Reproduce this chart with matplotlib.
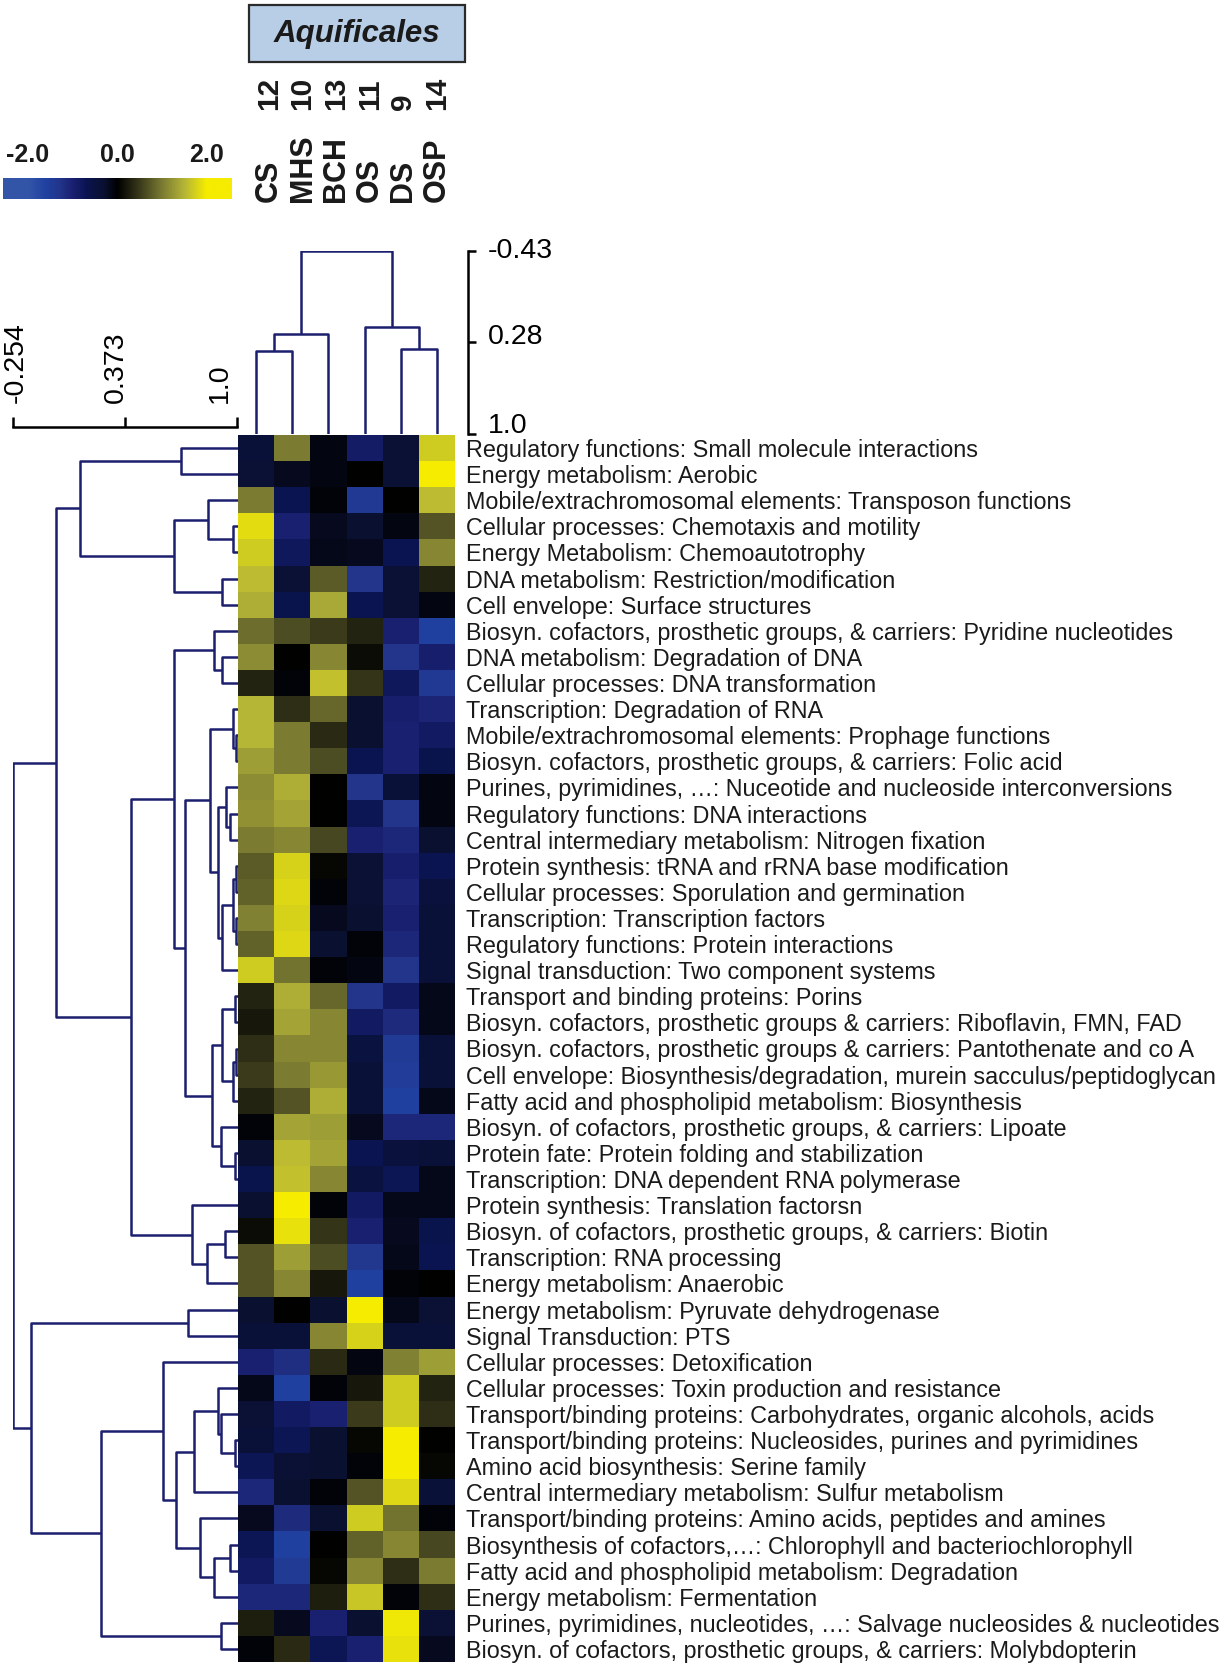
import numpy as np
import matplotlib
matplotlib.use("Agg")
import matplotlib.pyplot as plt
from matplotlib.colors import LinearSegmentedColormap, Normalize
from matplotlib.patches import Rectangle
from matplotlib.transforms import ScaledTranslation

plt.rcParams['font.family'] = ['Liberation Sans', 'DejaVu Sans']

# ---- data ----
samples = ['CS', 'MHS', 'BCH', 'OS', 'DS', 'OSP']
sample_nums = ['12', '10', '13', '11', '9', '14']
group_name = 'Aquificales'

roles = [
    "Regulatory functions: Small molecule interactions",
    "Energy metabolism: Aerobic",
    "Mobile/extrachromosomal elements: Transposon functions",
    "Cellular processes: Chemotaxis and motility",
    "Energy Metabolism: Chemoautotrophy",
    "DNA metabolism: Restriction/modification",
    "Cell envelope: Surface structures",
    "Biosyn. cofactors, prosthetic groups, & carriers: Pyridine nucleotides",
    "DNA metabolism: Degradation of DNA",
    "Cellular processes: DNA transformation",
    "Transcription: Degradation of RNA",
    "Mobile/extrachromosomal elements: Prophage functions",
    "Biosyn. cofactors, prosthetic groups, & carriers: Folic acid",
    "Purines, pyrimidines, \u2026: Nuceotide and nucleoside interconversions",
    "Regulatory functions: DNA interactions",
    "Central intermediary metabolism: Nitrogen fixation",
    "Protein synthesis: tRNA and rRNA base modification",
    "Cellular processes: Sporulation and germination",
    "Transcription: Transcription factors",
    "Regulatory functions: Protein interactions",
    "Signal transduction: Two component systems",
    "Transport and binding proteins: Porins",
    "Biosyn. cofactors, prosthetic groups & carriers: Riboflavin, FMN, FAD",
    "Biosyn. cofactors, prosthetic groups & carriers: Pantothenate and co A",
    "Cell envelope: Biosynthesis/degradation, murein sacculus/peptidoglycan",
    "Fatty acid and phospholipid metabolism: Biosynthesis",
    "Biosyn. of cofactors, prosthetic groups, & carriers: Lipoate",
    "Protein fate: Protein folding and stabilization",
    "Transcription: DNA dependent RNA polymerase",
    "Protein synthesis: Translation factorsn",
    "Biosyn. of cofactors, prosthetic groups, & carriers: Biotin",
    "Transcription: RNA processing",
    "Energy metabolism: Anaerobic",
    "Energy metabolism: Pyruvate dehydrogenase",
    "Signal Transduction: PTS",
    "Cellular processes: Detoxification",
    "Cellular processes: Toxin production and resistance",
    "Transport/binding proteins: Carbohydrates, organic alcohols, acids",
    "Transport/binding proteins: Nucleosides, purines and pyrimidines",
    "Amino acid biosynthesis: Serine family",
    "Central intermediary metabolism: Sulfur metabolism",
    "Transport/binding proteins: Amino acids, peptides and amines",
    "Biosynthesis of cofactors,\u2026: Chlorophyll and bacteriochlorophyll",
    "Fatty acid and phospholipid metabolism: Degradation",
    "Energy metabolism: Fermentation",
    "Purines, pyrimidines, nucleotides, \u2026: Salvage nucleosides & nucleotides",
    "Biosyn. of cofactors, prosthetic groups, & carriers: Molybdopterin",
]

# z-scores, one row per role, columns in sample order
values = np.array([
    [-0.40, 1.00, -0.10, -0.90, -0.35, 1.70],
    [-0.35, -0.20, -0.10, 0.00, -0.35, 2.00],
    [1.00, -0.70, -0.05, -1.40, 0.00, 1.55],
    [1.85, -1.00, -0.20, -0.30, -0.10, 0.70],
    [1.70, -0.80, -0.15, -0.20, -0.70, 1.10],
    [1.55, -0.35, 0.75, -1.30, -0.35, 0.30],
    [1.45, -0.65, 1.40, -0.70, -0.35, -0.10],
    [0.90, 0.65, 0.50, 0.30, -1.00, -1.60],
    [1.15, 0.00, 1.10, 0.10, -1.30, -0.95],
    [0.30, -0.05, 1.60, 0.45, -0.80, -1.40],
    [1.50, 0.40, 0.85, -0.30, -0.95, -1.05],
    [1.50, 1.00, 0.35, -0.30, -1.00, -0.85],
    [1.30, 1.00, 0.65, -0.70, -1.00, -0.65],
    [1.15, 1.45, 0.00, -1.30, -0.40, -0.10],
    [1.20, 1.35, 0.00, -0.75, -1.30, -0.10],
    [1.00, 1.10, 0.60, -1.00, -1.10, -0.30],
    [0.75, 1.75, 0.05, -0.35, -0.95, -0.70],
    [0.80, 1.80, -0.05, -0.35, -1.05, -0.45],
    [1.05, 1.75, -0.20, -0.30, -1.00, -0.40],
    [0.80, 1.80, -0.30, -0.05, -1.10, -0.40],
    [1.70, 0.95, -0.05, -0.10, -1.30, -0.40],
    [0.30, 1.45, 0.85, -1.30, -0.85, -0.15],
    [0.20, 1.35, 1.10, -0.85, -1.15, -0.15],
    [0.40, 1.10, 1.10, -0.50, -1.45, -0.40],
    [0.50, 1.00, 1.25, -0.40, -1.50, -0.40],
    [0.30, 0.70, 1.45, -0.40, -1.60, -0.15],
    [-0.05, 1.35, 1.30, -0.20, -1.10, -1.10],
    [-0.30, 1.55, 1.35, -0.70, -0.45, -0.40],
    [-0.65, 1.60, 1.10, -0.50, -0.75, -0.15],
    [-0.30, 2.00, -0.05, -0.85, -0.15, -0.15],
    [0.10, 1.90, 0.45, -1.00, -0.20, -0.65],
    [0.70, 1.30, 0.65, -1.35, -0.15, -0.70],
    [0.70, 1.10, 0.20, -1.60, -0.05, 0.00],
    [-0.30, 0.00, -0.30, 2.00, -0.15, -0.35],
    [-0.40, -0.40, 1.10, 1.75, -0.40, -0.40],
    [-1.00, -1.20, 0.35, -0.10, 1.05, 1.30],
    [-0.15, -1.60, -0.05, 0.20, 1.70, 0.30],
    [-0.35, -0.85, -1.00, 0.50, 1.70, 0.40],
    [-0.40, -0.75, -0.30, 0.05, 2.00, 0.00],
    [-0.75, -0.35, -0.30, -0.05, 2.00, 0.05],
    [-1.10, -0.30, -0.05, 0.70, 1.80, -0.40],
    [-0.20, -1.15, -0.30, 1.70, 0.95, -0.05],
    [-0.75, -1.60, 0.00, 0.80, 1.10, 0.60],
    [-0.85, -1.45, 0.05, 1.10, 0.40, 1.00],
    [-1.10, -1.10, 0.25, 1.65, -0.05, 0.40],
    [0.25, -0.20, -1.00, -0.30, 1.95, -0.35],
    [-0.05, 0.35, -0.75, -1.00, 1.90, -0.20],
])

# row tree: (merge height, left, right); ints are row indices
row_tree = (-0.254,
    (-0.013,
        (0.121,
            (0.681, 0, 1),
            (0.643, (0.832, 2, (0.972, 3, 4)), (0.909, 5, 6))),
        (0.401,
            (0.643,
                (0.866, 7, (0.909, 8, 9)),
                (0.703,
                    (0.844,
                        (0.972, 10, (0.99, 11, 12)),
                        (0.888,
                            (0.933, 13, (0.955, 14, 15)),
                            (0.91, (0.972, (0.99, 16, 17), (0.99, 18, 19)), 20))),
                    (0.855,
                        (0.91, (0.985, 21, 22), (0.972, (0.99, 23, 24), 25)),
                        (0.905, 26, (0.985, 27, 28))))),
            (0.742, 29, (0.83, (0.93, 30, 31), 32)))),
    (-0.153,
        (0.72, 33, 34),
        (0.238,
            (0.58, 35,
                (0.657,
                    (0.754, (0.886, 36, (0.906, 37, (0.985, 38, 39))), 40),
                    (0.79, 41, (0.866, (0.956, 42, 43), 44)))),
            (0.906, 45, 46))))

col_tree = (-0.43, (0.218, (0.35, 0, 1), 2), (0.164, 3, (0.334, 4, 5)))

row_scale_ticks = [-0.254, 0.373, 1.0]
row_scale_labels = ['-0.254', '0.373', '1.0']
col_scale_ticks = [-0.43, 0.28, 1.0]
col_scale_labels = ['-0.43', '0.28', '1.0']
key_ticks = [-2.0, 0.0, 2.0]

# ---- figure ----
W, H = 1225, 1666
fig = plt.figure(figsize=(W / 100, H / 100), dpi=100)


def px_axes(x0, y0, x1, y1):
    return fig.add_axes([x0 / W, 1 - y1 / H, (x1 - x0) / W, (y1 - y0) / H])


def shift(lbl, dx_px, dy_px):
    lbl.set_transform(lbl.get_transform() +
                      ScaledTranslation(dx_px / 100, dy_px / 100, fig.dpi_scale_trans))


cmap = LinearSegmentedColormap.from_list('by', [
    (0.0, '#3355a8'), (0.1, '#2040a0'), (0.175, '#22358a'), (0.25, '#1a2070'),
    (0.325, '#0a1450'), (0.425, '#0a1030'), (0.5, '#000000'),
    (0.625, '#3a3a1c'), (0.75, '#7a7a32'), (0.875, '#b4b438'), (1.0, '#f5ec00')])
norm = Normalize(-2, 2)
line_col = '#1c1f6e'

# heatmap
hx0, hx1, hy0, hy1 = 238, 455, 435, 1662
ax = px_axes(hx0, hy0, hx1, hy1)
ax.pcolormesh(np.arange(len(samples) + 1), np.arange(len(roles) + 1), values,
              cmap=cmap, norm=norm, edgecolors='none')
ax.set_xlim(0, len(samples))
ax.set_ylim(len(roles), 0)
ax.set_xticks([])
ax.yaxis.tick_right()
ax.set_yticks(np.arange(len(roles)) + 0.5)
ax.set_yticklabels(roles, fontsize=16.8, color='#1a1a1a')
ax.tick_params(axis='y', length=0, pad=8)
for s in ax.spines.values():
    s.set_visible(False)


def draw_tree(axd, node, vertical):
    if isinstance(node, int):
        return node + 0.5, 1.0
    h, l, r = node
    pl, hl = draw_tree(axd, l, vertical)
    pr, hr = draw_tree(axd, r, vertical)
    p = [pl, pl, pr, pr]
    q = [hl, h, h, hr]
    if vertical:
        axd.plot(p, q, color=line_col, lw=1.8, solid_capstyle='butt')
    else:
        axd.plot(q, p, color=line_col, lw=1.8, solid_capstyle='butt')
    return (pl + pr) / 2, h


# row dendrogram
rd = px_axes(13, hy0, hx0, hy1)
draw_tree(rd, row_tree, vertical=False)
rd.set_xlim(-0.254, 1.0)
rd.set_ylim(len(roles), 0)
rd.axis('off')

# column dendrogram
cd = px_axes(hx0, 251, hx1, hy0 - 1)
draw_tree(cd, col_tree, vertical=True)
cd.set_xlim(0, len(samples))
cd.set_ylim(1.0, -0.43)
cd.axis('off')

# row scale
rs = px_axes(13, 427, 237, 428)
rs.set_xlim(-0.254, 1.0)
rs.set_ylim(0, 1)
for k in ['left', 'right', 'bottom']:
    rs.spines[k].set_visible(False)
rs.spines['top'].set_linewidth(1.8)
rs.xaxis.tick_top()
rs.set_xticks(row_scale_ticks)
rs.set_xticklabels(row_scale_labels, rotation=90, fontsize=20.5)
rs.tick_params(axis='x', direction='out', length=7, width=1.8, pad=10)
rs.set_yticks([])
for lbl, dx in zip(rs.get_xticklabels(), [3, -9, -17]):
    shift(lbl, dx, 0)

# column scale
cs = px_axes(467, 251, 468, 434)
cs.set_ylim(1.0, -0.43)
cs.set_xlim(0, 1)
for k in ['left', 'top', 'bottom']:
    cs.spines[k].set_visible(False)
cs.spines['right'].set_linewidth(1.8)
cs.yaxis.tick_right()
cs.set_yticks(col_scale_ticks)
cs.set_yticklabels(col_scale_labels, fontsize=20.5)
cs.tick_params(axis='y', direction='out', length=6, width=1.8, pad=8)
cs.set_xticks([])
for lbl, dy in zip(cs.get_yticklabels(), [3, 8, 11]):
    shift(lbl, 0, dy)

# colour key
kx = px_axes(3, 178, 231, 199)
grad = np.linspace(-2.56, 2.56, 400)[None, :]
kx.imshow(grad, aspect='auto', cmap=cmap, norm=norm, extent=(-2.56, 2.56, 0, 1))
kx.set_xlim(-2.56, 2.56)
kx.xaxis.tick_top()
kx.set_xticks(key_ticks)
kx.set_xticklabels(['-2.0', '0.0', '2.0'], fontsize=18, fontweight='bold', color='#1a1a1a')
kx.tick_params(axis='x', length=0, pad=8)
kx.set_yticks([])
for s in kx.spines.values():
    s.set_visible(False)

# column labels
for i, (nm, num) in enumerate(zip(samples, sample_nums)):
    xf = (269 + 33.6 * i) / W
    fig.text(xf, 1 - 202 / H, nm, rotation=90, ha='center', va='bottom',
             fontsize=22, fontweight='bold', color='#1a1a1a')
    fig.text(xf, 1 - 110 / H, num, rotation=90, ha='center', va='bottom',
             fontsize=21.5, fontweight='bold', color='#1a1a1a')

# group box
fig.patches.append(Rectangle((249 / W, 1 - 62 / H), 216 / W, 57 / H,
                             transform=fig.transFigure, facecolor='#b8cde6',
                             edgecolor='#2a2a2a', lw=1.6))
fig.text(357 / W, 1 - 34 / H, group_name, ha='center', va='center',
         fontsize=22.5, fontweight='bold', fontstyle='italic', color='#1a1a1a')

fig.savefig('out.png', dpi=100, facecolor='white')
